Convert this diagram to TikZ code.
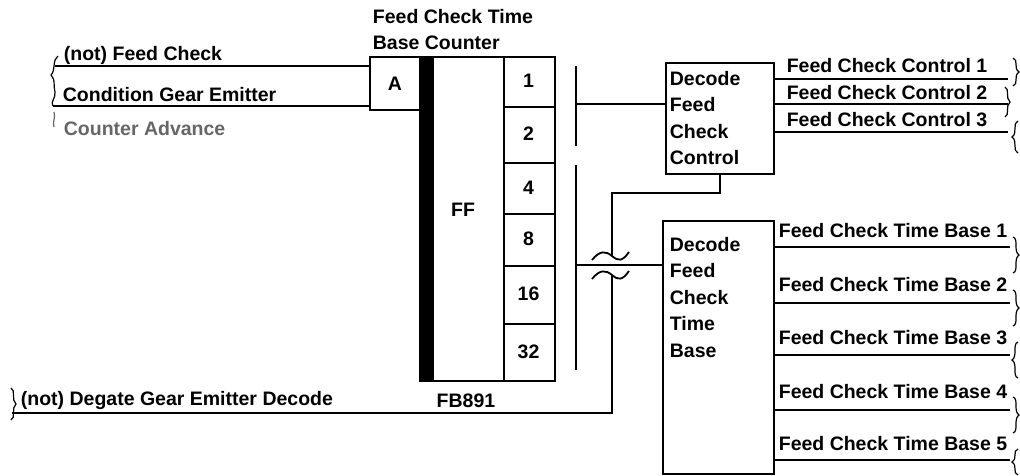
\documentclass[tikz,border=0pt]{standalone}
\usepackage{fontspec}
\setmainfont{Liberation Sans}
\newcommand\wirebrace[4]{\draw[wbr] (#1,{#2-#3}) .. controls ({#1+#4},{#2-#3+2}) and (#1,{#2-4}) .. ({#1+#4},#2) .. controls (#1,{#2+4}) and ({#1+#4},{#2+#3-2}) .. (#1,{#2+#3});}
\begin{document}
\begin{tikzpicture}[x=1pt,y=-1pt,line width=1.8pt,
  txt/.style={font=\fontsize{19.5}{26.5}\selectfont\bfseries,inner sep=0pt},
  box/.style={draw,line width=1.8pt,inner sep=0pt,anchor=north west},
  wbr/.style={line width=1.2pt}]
\useasboundingbox (0,0) rectangle (1020,475);

% title
\node[txt,align=left,anchor=north west] (title) at (372,8) {Feed Check Time\\Base Counter};

% counter
\node[box,txt,minimum width=50pt,minimum height=53pt] (A) at (369,56) {A};
\node[box,fill=black,minimum width=13pt,minimum height=324pt] (bar) at (419,56) {};
\node[box,minimum width=71pt,minimum height=324pt] (ff) at (432,56) {};
\node[txt] (ffl) at (463,210) {FF};
\foreach \t/\b/\l in {56/106/1,106/162/2,162/213/4,213/265/8,265/323/16,323/380/32}{
  \node[box,minimum width=51pt,minimum height={(\b-\t)*1pt}] (b\l) at (503,\t) {};
  \node[txt] (bl\l) at (528.5,{(\t+\b)/2}) {\l};
}
\node[txt] (fb) at (466,401) {FB891};

% inputs
\coordinate (in1) at (55,66);
\coordinate (in2) at (53,106);
\draw (in1) -- (A.west |- in1);
\draw (in2) -- (A.west |- in2);
\node[txt,anchor=west] (t1) at (63,55) {(not) Feed Check};
\node[txt,anchor=west] (t2) at (62,95) {Condition Gear Emitter};
\node[txt,anchor=west,text=black!60] (t3) at (63,129) {Counter Advance};
\draw[wbr] (58,56) .. controls (52,60) and (56,70) .. (51,75) .. controls (56,80) and (53,86) .. (55,92) .. controls (56,98) and (50,102) .. (53,106);
\draw[wbr,black!60] (54,112) .. controls (56,118) and (52,122) .. (54,127);

% bus lines
\coordinate (bus1t) at (576,66);
\coordinate (bus1b) at (576,146);
\coordinate (bus2t) at (576,165);
\coordinate (bus2b) at (576,370);
\draw (bus1t) -- (bus1b);
\draw (bus2t) -- (bus2b);

% decode feed check control
\node[box,minimum width=108pt,minimum height=111pt] (dcc) at (665,62) {};
\node[txt,align=left,anchor=north west] (dcct) at (669,70) {Decode\\Feed\\Check\\Control};
\coordinate (y104) at (0,104);
\draw (bus1t |- y104) -- (dcc.west |- y104);

% decode feed check time base
\node[box,minimum width=111pt,minimum height=253pt] (dtb) at (662,220) {};
\node[txt,align=left,anchor=north west] (dtbt) at (669,236) {Decode\\Feed\\Check\\Time\\Base};
\coordinate (y265) at (0,265);
\draw (bus2t |- y265) -- (dtb.west |- y265);

% crossing line to degate
\coordinate (k2) at (612,193);
\coordinate (k3) at (612,256);
\coordinate (k4) at (612,275);
\coordinate (k5) at (612,413);
\coordinate (dg) at (12,413);
\draw (dcc.south) |- (k2) -- (k3);
\draw (592,260) .. controls (600,250) and (606,251) .. (k3) .. controls (618,261) and (622,262) .. (629,252);
\draw (592,279) .. controls (600,269) and (606,270) .. (k4) .. controls (618,280) and (622,281) .. (629,271);
\draw (k4) -- (k5) -- (dg);
\node[txt,anchor=west] (t4) at (20,400) {(not) Degate Gear Emitter Decode};
\wirebrace{11}{404}{16}{5}

% control outputs
\foreach \y/\ly/\n in {79/66/1,104/93/2,132/120/3}{
  \coordinate (c\n) at (1008,\y);
  \draw (dcc.east |- c\n) -- (c\n);
  \node[txt] (lc\n) at (887,\ly) {Feed Check Control \n};
}
\wirebrace{1013}{72}{14}{6}
\wirebrace{1005}{102}{15}{5}
\wirebrace{1018}{137}{16}{-6}

% time base outputs
\foreach \y/\ly/\n in {247/231/1,303/285/2,355/338/3,410/392/4,460/444/5}{
  \coordinate (o\n) at (1010,\y);
  \draw (dtb.east |- o\n) -- (o\n);
  \node[txt] (lt\n) at (893,\ly) {Feed Check Time Base \n};
}
\wirebrace{1013}{255}{18}{6}
\wirebrace{1013}{308}{18}{6}
\wirebrace{1018}{360}{18}{-6}
\wirebrace{1013}{415}{18}{6}
\wirebrace{1018}{462}{13}{-6}
\end{tikzpicture}
\end{document}
